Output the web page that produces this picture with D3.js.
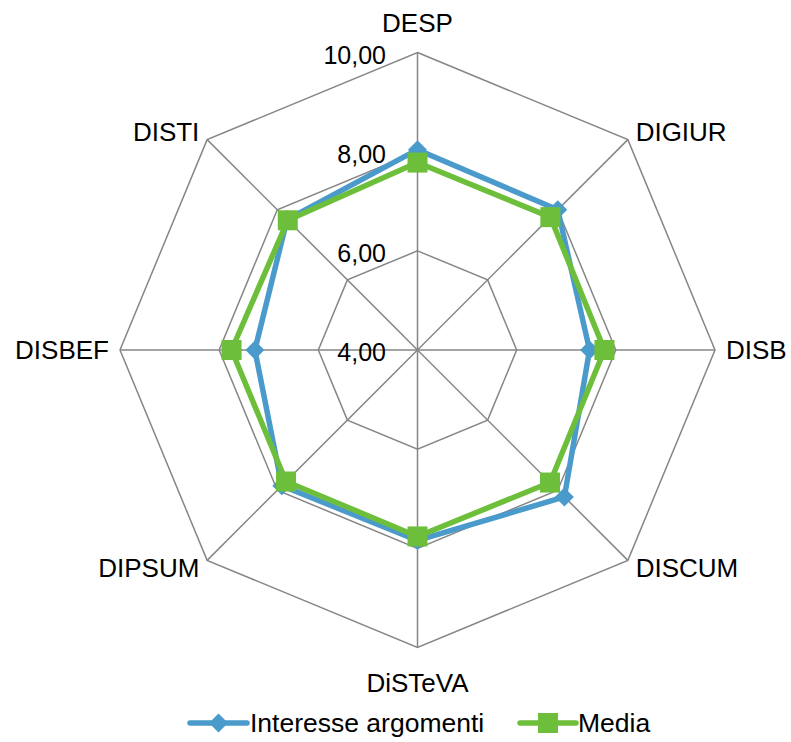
<!DOCTYPE html>
<html><head><meta charset="utf-8">
<script src="https://cdn.jsdelivr.net/npm/d3@7"></script>
<style>body{margin:0;background:#fff}svg{display:block}text{font-family:"Liberation Sans",Arial,sans-serif;fill:#000}</style>
</head><body>
<svg id="c" width="791" height="742"></svg>
<script>
const categories = ["DESP","DIGIUR","DISB","DISCUM","DiSTeVA","DIPSUM","DISBEF","DISTI"];
const interesse = [8.04, 8.00, 7.47, 8.19, 7.84, 7.87, 7.28, 7.72];
const media = [7.78, 7.79, 7.77, 7.78, 7.76, 7.75, 7.75, 7.70];
const ticks = [4, 6, 8, 10];
const tickLabels = ["4,00","6,00","8,00","10,00"];
const seriesNames = ["Interesse argomenti","Media"];

const svg = d3.select("#c");
const cx = 417.5, cy = 350, R = 297.5;
const r = d3.scaleLinear().domain([4,10]).range([0,R]);
const ang = d3.scalePoint().domain(categories).range([0, 2*Math.PI*(categories.length-1)/categories.length]);
const pt = (c,v) => [cx + Math.sin(ang(c))*r(v), cy - Math.cos(ang(c))*r(v)];
const diamond = h => `M0,${-h}L${h},0L0,${h}L${-h},0Z`;

const g = svg.append("g");
ticks.slice(1).forEach(t=>{
  g.append("path").attr("d", d3.line()(categories.map(c=>pt(c,t))) + "Z")
   .attr("fill","none").attr("stroke","#868686").attr("stroke-width",1.5);
});
categories.forEach(c=>{
  const [x,y]=pt(c,10);
  g.append("line").attr("x1",cx).attr("y1",cy).attr("x2",x).attr("y2",y)
   .attr("stroke","#868686").attr("stroke-width",1.5);
});
ticks.forEach((t,i)=>{
  g.append("text").attr("x",386).attr("y",cy - r(t) + 2).attr("text-anchor","end")
   .attr("dominant-baseline","central").attr("font-size",25).text(tickLabels[i]);
});
categories.forEach(c=>{
  const a = ang(c), s=Math.sin(a), co=Math.cos(a);
  const d = Math.abs(s)<0.1 ? (co>0?30:35) : 11;
  const x = cx + s*(R+d), y = cy - co*(R+d);
  g.append("text").attr("x",x).attr("y",y)
   .attr("text-anchor", s>0.1?"start":(s<-0.1?"end":"middle"))
   .attr("dominant-baseline","central").attr("font-size",26).text(c);
});
const colors = ["#4a9acb","#6dbf3b"];
const lineGen = d3.line();
[interesse, media].forEach((vals,si)=>{
  const pts = categories.map((c,i)=>pt(c,vals[i]));
  g.append("path").attr("d", lineGen(pts)+"Z").attr("fill","none")
   .attr("stroke",colors[si]).attr("stroke-width",5.5).attr("stroke-linejoin","round");
  pts.forEach(p=>{
    if(si===0){
      g.append("path").attr("d", diamond(9.5))
       .attr("transform",`translate(${p[0]},${p[1]})`).attr("fill",colors[0]);
    } else {
      g.append("rect").attr("x",p[0]-10).attr("y",p[1]-10).attr("width",20).attr("height",20).attr("fill",colors[1]);
    }
  });
});
const leg = svg.append("g");
const legItems = [{x1:190,x2:247,tx:250},{x1:520,x2:576,tx:578}];
legItems.forEach((it,i)=>{
  const ly=723;
  leg.append("line").attr("x1",it.x1).attr("x2",it.x2).attr("y1",ly).attr("y2",ly)
   .attr("stroke",colors[i]).attr("stroke-width",5.5).attr("stroke-linecap","round");
  const mx=(it.x1+it.x2)/2;
  if(i===0) leg.append("path").attr("d", diamond(9.5)).attr("transform",`translate(${mx},${ly})`).attr("fill",colors[0]);
  else leg.append("rect").attr("x",mx-10).attr("y",ly-10).attr("width",20).attr("height",20).attr("fill",colors[1]);
  leg.append("text").attr("x",it.tx).attr("y",ly).attr("dominant-baseline","central").attr("font-size",26.5).text(seriesNames[i]);
});
</script>
</body></html>
